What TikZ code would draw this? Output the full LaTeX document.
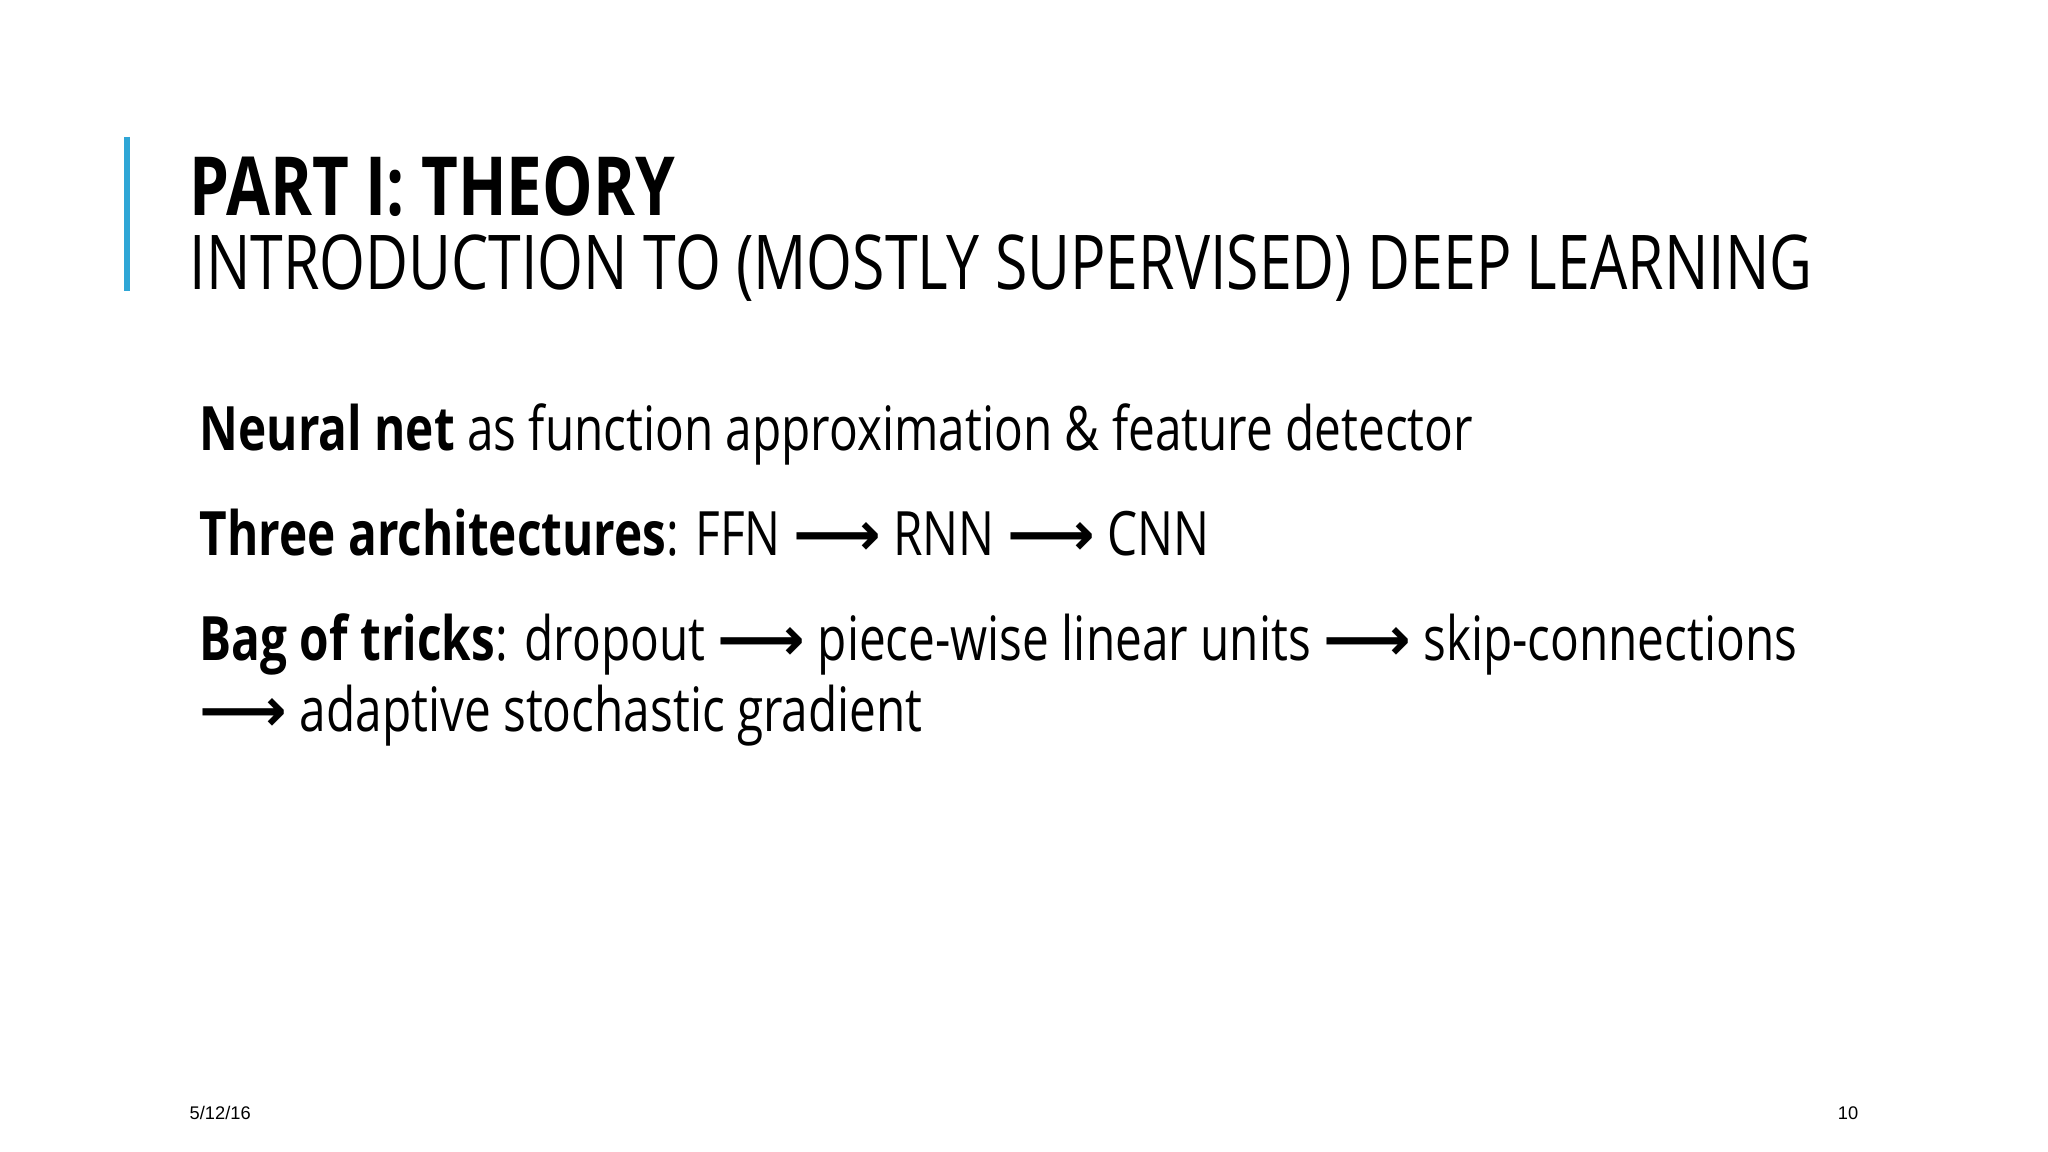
\documentclass[tikz,border=0pt]{standalone}
\usepackage{fontspec}
\setmainfont{Open Sans}[FakeStretch=0.78]
\newfontfamily\arial{Liberation Sans}
\newfontfamily\arr{DejaVu Sans}
\definecolor{barblue}{HTML}{2FA6D6}
\newcommand{\ar}{{\arr\bfseries ⟶}}
\begin{document}
\begin{tikzpicture}[x=0.01cm,y=-0.01cm,
  txt/.style={anchor=base west,inner sep=0pt},
  body/.style={txt,font=\fontsize{17.4}{22}\selectfont}]
\useasboundingbox (0,0) rectangle (2048,1152);
\fill[white] (0,0) rectangle (2048,1152);
\draw[barblue,line width=1.5pt] (127,137) -- (127,291);
\node[txt,font=\fontsize{23.2}{30}\selectfont\bfseries] (t) at (189,216) {PART I: THEORY};
\node[txt,font=\fontsize{21.5}{26}\selectfont] (s) at (189,290) {INTRODUCTION TO (MOSTLY SUPERVISED) DEEP LEARNING};
\node[body] (l1) at (199,451) {\textbf{Neural net} as function approximation \& feature detector};
\node[body] (l2) at (199,555) {\textbf{Three architectures}: FFN \ar\ RNN \ar\ CNN};
\node[body] (l3) at (199,660) {\textbf{Bag of tricks}: dropout \ar\ piece-wise linear units \ar\ skip-connections};
\node[body] (l4) at (199,731) {\ar\ adaptive stochastic gradient};
\node[txt,font=\arial\fontsize{5.2}{6}\selectfont] (d) at (189,1119) {5/12/16};
\node[anchor=base east,inner sep=0pt,font=\arial\fontsize{5.2}{6}\selectfont] (n) at (1859,1119) {10};
\end{tikzpicture}
\end{document}
